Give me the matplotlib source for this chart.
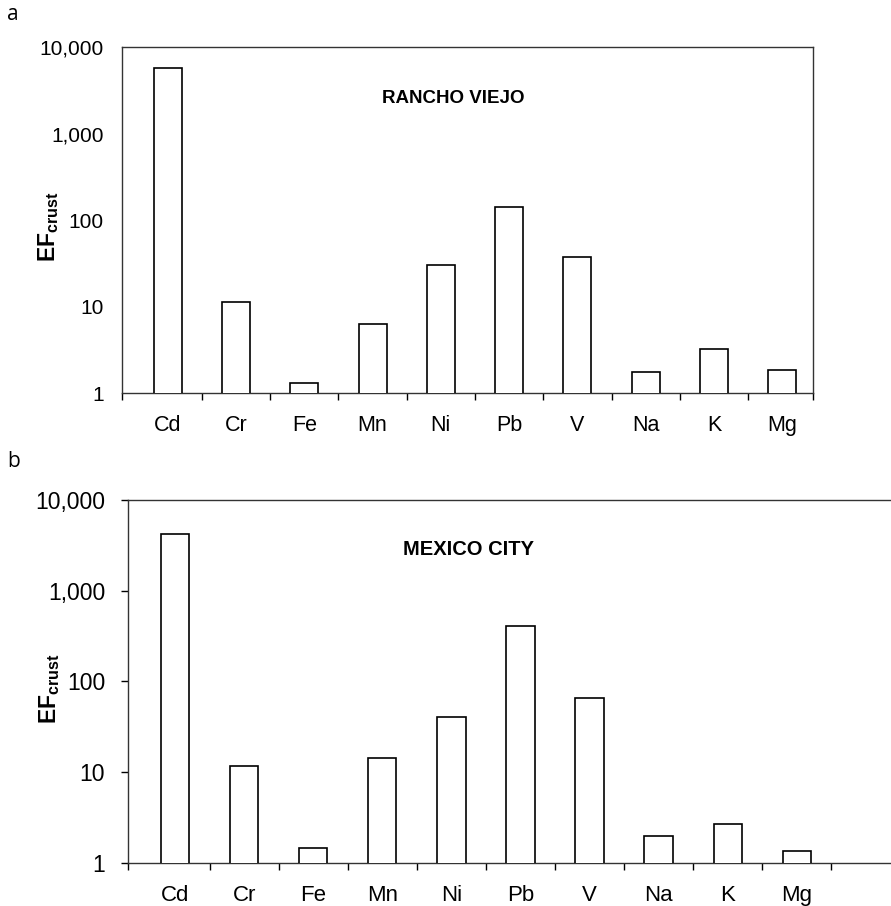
import numpy as np
import matplotlib.pyplot as plt
from matplotlib.ticker import FixedLocator, NullLocator, FuncFormatter

plt.rcParams['font.family'] = 'Liberation Sans'
plt.rcParams['mathtext.fontset'] = 'custom'
plt.rcParams['mathtext.bf'] = 'Liberation Sans:bold'
plt.rcParams['mathtext.rm'] = 'Liberation Sans'

elements = ['Cd', 'Cr', 'Fe', 'Mn', 'Ni', 'Pb', 'V', 'Na', 'K', 'Mg']
ef_rancho_viejo = [5700, 11.2, 1.29, 6.2, 30, 142, 37, 1.76, 3.2, 1.83]
ef_mexico_city = [4200, 11.8, 1.46, 14.2, 41, 405, 65, 1.98, 2.7, 1.36]
yticks = [1, 10, 100, 1000, 10000]


def draw_panel(ax, values, title, title_xy, title_size, xlim, n_bounds,
               tick_size, cat_size, ytick_len, ylabel_x):
    x = np.arange(len(elements))
    ax.bar(x, values, width=0.41, color='white', edgecolor='black',
           linewidth=1.2, zorder=3)
    ax.set_yscale('log')
    ax.set_ylim(1, 10000)
    ax.set_xlim(*xlim)

    ax.yaxis.set_major_locator(FixedLocator(yticks))
    ax.yaxis.set_minor_locator(NullLocator())
    ax.yaxis.set_major_formatter(FuncFormatter(lambda v, p: f'{v:,.0f}'))
    ax.tick_params(axis='y', which='major', labelsize=tick_size,
                   length=ytick_len, width=1, direction='out',
                   pad=13 - ytick_len * 0.3)

    # labels at category centres, tick marks at the category boundaries
    ax.set_xticks(x)
    ax.set_xticklabels(elements)
    ax.tick_params(axis='x', which='major', length=0, labelsize=cat_size, pad=16)
    bounds = list(np.arange(0.5, n_bounds, 1)) + list(xlim)
    ax.xaxis.set_minor_locator(FixedLocator(bounds))
    ax.tick_params(axis='x', which='minor', length=5, width=1, direction='out')

    for s in ax.spines.values():
        s.set_color('#333333')
        s.set_linewidth(1.0)

    ax.text(title_xy[0], title_xy[1], title, transform=ax.transAxes,
            fontsize=title_size, fontweight='bold', ha='left', va='baseline')
    ax.set_ylabel(r'$\mathbf{EF}_{\mathbf{crust}}$', fontsize=16.5)
    ax.yaxis.set_label_coords(ylabel_x, 0.48)


fig = plt.figure(figsize=(8.91, 9.06), dpi=100)

ax_a = fig.add_axes([0.1369, 0.5662, 0.7755, 0.3819])
draw_panel(ax_a, ef_rancho_viejo, 'RANCHO VIEJO', (0.376, 0.839), 13.5,
           (-0.67, 9.45), 9, 15, 15.5, 0, -0.088)

ax_b = fig.add_axes([0.1437, 0.0475, 0.863, 0.4007])
draw_panel(ax_b, ef_mexico_city, 'MEXICO CITY', (0.358, 0.8485), 14.5,
           (-0.68, 10.45), 10, 16.5, 16, 5, -0.086)

fig.text(7 / 891, 1 - 20 / 906, 'a', fontsize=15, family='Open Sans',
         ha='left', va='baseline')
fig.text(7 / 891, 1 - 467 / 906, 'b', fontsize=15, family='Open Sans',
         ha='left', va='baseline')

fig.savefig('out.png', dpi=100)
